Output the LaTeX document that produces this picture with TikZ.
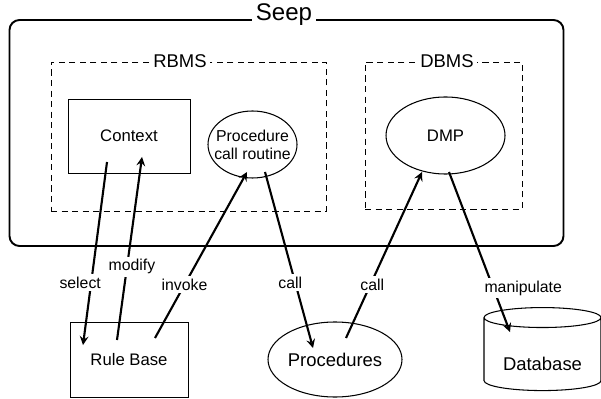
\documentclass[tikz,border=0pt]{standalone}
\usepackage{fontspec}
\setmainfont{Liberation Sans}
\usepackage{tikz}
\usetikzlibrary{shapes.geometric, arrows, positioning}
\tikzstyle{container} = [rectangle, rounded corners=0.2cm, minimum width=11.08cm, minimum height=4.52cm, draw=black, line width=1.1pt]
\tikzstyle{subsystem} = [rectangle, draw=black, thin, dash pattern=on 3.5pt off 2.5pt]
\tikzstyle{store} = [rectangle, minimum width=2.44cm, minimum height=1.48cm, draw=black, thin, inner sep=0pt]
\tikzstyle{routine} = [ellipse, draw=black, semithick, inner sep=0pt, align=center]
\tikzstyle{database} = [cylinder, shape border rotate=90, aspect=0.22, draw=black, semithick, minimum width=2.34cm, minimum height=1.66cm]
\tikzstyle{boxtitle} = [fill=white, inner xsep=2pt, inner ysep=1pt, font=\fontsize{10.5}{12}\selectfont]
\tikzstyle{lbl} = [fill=white, inner sep=1.5pt, font=\fontsize{9}{10}\selectfont]
\tikzstyle{arrow} = [very thick,->,>=stealth]

\begin{document}
\begin{tikzpicture}[node distance=2cm, font=\fontsize{9.5}{11}\selectfont]
		
		\useasboundingbox (0,0) rectangle (12.02,-7.98);
		
		\node (seep) [container] at (5.73,-2.66) {};
		
		\node (seeplbl) [boxtitle, font=\fontsize{13.7}{15}\selectfont] at ([xshift=-0.05cm, yshift=0.08cm]seep.north) {Seep};
		
		\node (rbms) [subsystem, minimum width=5.5cm, minimum height=2.98cm] at (3.77,-2.73) {};
		
		\node (rbmslbl) [boxtitle] at ([xshift=-0.17cm]rbms.north) {RBMS};
		
		\node (dbms) [subsystem, minimum width=3.14cm, minimum height=2.94cm] at (8.87,-2.71) {};
		
		\node (dbmslbl) [boxtitle] at ([xshift=0.07cm]dbms.north) {DBMS};
		
		\node (ctx) [store] at (2.58,-2.72) {Context};
		
		\node (pcr) [routine, right of=ctx, xshift=0.47cm, yshift=-0.17cm][minimum width=1.78cm, minimum height=1.34cm, inner xsep=-0.18cm, font=\fontsize{9}{10.2}\selectfont]{Procedure\\call routine};
		
		\node (dmp) [routine, right of=pcr, xshift=1.86cm, yshift=0.18cm][minimum width=2.38cm, minimum height=1.54cm]{DMP};
		
		\node (rb) [store, below of=ctx, yshift=-2.47cm][minimum width=2.36cm, minimum height=1.5cm]{Rule Base};
		
		\node (proc) [routine, right of=rb, xshift=2.12cm][minimum width=2.68cm, minimum height=1.5cm, font=\fontsize{10.5}{12}\selectfont]{Procedures};
		
		\node (db) [database, right of=proc, xshift=2.15cm, yshift=0.06cm][text height=0.58cm, font=\fontsize{10.5}{12}\selectfont]{Database};
		
		\draw [arrow] ([xshift=-0.44cm, yshift=-0.52cm]ctx.center) -- node[lbl, pos=0.66, xshift=-0.22cm] {select} ([xshift=-0.92cm, yshift=0.29cm]rb.center);
		\draw [arrow] ([xshift=-0.24cm, yshift=0.39cm]rb.center) -- node[lbl, pos=0.4, xshift=0.1cm] {modify} ([xshift=0.26cm, yshift=-0.42cm]ctx.center);
		\draw [arrow] ([xshift=0.52cm, yshift=0.43cm]rb.center) -- node[lbl, pos=0.32] {invoke} ([xshift=-0.11cm, yshift=-0.55cm]pcr.center);
		\draw [arrow] ([xshift=0.25cm, yshift=-0.55cm]pcr.center) -- node[lbl, pos=0.63, xshift=-0.1cm] {call} ([xshift=-0.44cm, yshift=0.23cm]proc.center);
		\draw [arrow] ([xshift=0.22cm, yshift=0.43cm]proc.center) -- node[lbl, pos=0.32, xshift=0.04cm] {call} ([xshift=-0.47cm, yshift=-0.73cm]dmp.center);
		\draw [arrow] ([xshift=0.07cm, yshift=-0.73cm]dmp.center) -- node[lbl, pos=0.725, xshift=0.6cm] {manipulate} ([xshift=-0.65cm, yshift=0.49cm]db.center);
		\end{tikzpicture}
\end{document}
